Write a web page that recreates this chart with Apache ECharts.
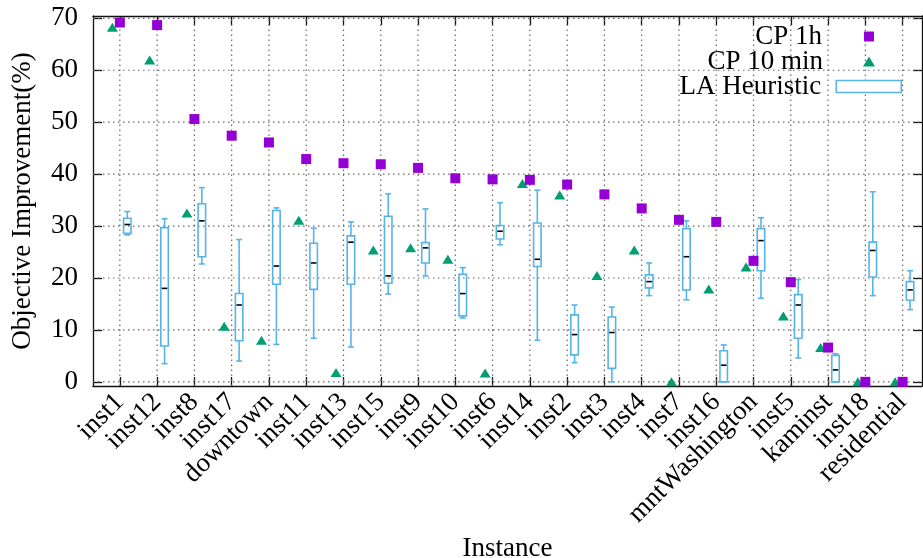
<!DOCTYPE html>
<html>
<head>
<meta charset="utf-8">
<script src="https://cdn.jsdelivr.net/npm/echarts@6/dist/echarts.min.js"></script>
<style>html,body{margin:0;padding:0;background:#fff}#c{width:923px;height:558px}</style>
</head>
<body>
<div id="c"></div>
<script>
const categories = ['inst1','inst12','inst8','inst17','downtown','inst11','inst13','inst15','inst9','inst10','inst6','inst14','inst2','inst3','inst4','inst7','inst16','mntWashington','inst5','kaminst','inst18','residential'];
const cp1h   = [69.2,68.7,50.6,47.4,46.1,42.9,42.1,41.9,41.2,39.2,39.0,38.9,38.0,36.1,33.4,31.2,30.8,23.3,19.2,6.6,0,0];
const cp10   = [68.3,62.0,32.5,10.7,8.0,31.1,1.8,25.4,25.8,23.6,1.7,38.2,36.0,20.5,25.4,0,17.9,22.1,12.7,6.6,0,0];
const boxLow = [28.3,3.5,22.7,4.0,7.2,8.4,6.7,16.9,20.4,12.3,26.4,8.0,3.7,0,16.6,15.8,0,16.1,4.6,0,16.6,13.9];
const boxQ1  = [28.6,6.9,24.1,7.9,18.8,17.8,18.8,19.0,22.9,12.7,27.5,22.2,5.2,2.6,18.1,17.7,0,21.4,8.4,0,20.2,15.7];
const boxMed = [30.3,18.0,31.0,14.8,22.3,22.9,26.9,20.4,25.8,17.0,29.0,23.6,9.1,9.5,19.3,24.1,3.2,27.2,14.8,2.3,25.3,17.7];
const boxQ3  = [31.5,29.7,34.3,17.0,33.0,26.7,28.1,31.9,26.8,20.7,30.1,30.6,12.9,12.5,20.6,29.5,6.0,29.5,16.8,5.1,26.9,19.3];
const boxHigh= [32.8,31.4,37.4,27.4,33.5,29.6,30.8,36.2,33.3,22.0,34.5,36.9,14.8,14.4,22.9,31.0,7.1,31.6,19.7,5.4,36.6,21.4];
const yTicks = [0,10,20,30,40,50,60,70];

const PURPLE = '#9400d3', GREEN = '#009e73', BLUE = '#56b4e9';
const FONT = '"Liberation Serif", "DejaVu Serif", serif';
const FS = 27;
const TRI_SHIFT = -0.2, BOX_SHIFT = 0.2;
const X_MIN = -0.72, X_MAX = 21.52, Y_MIN = -0.8, Y_MAX = 70.45;
const xIdx = categories.map((c, i) => i);
// padded label list: the end entries are blank placeholders so no real label is dropped by min/max overlap logic
const xLabelVals = [X_MIN].concat(xIdx, [X_MAX]);

const squareData = cp1h.map((v, i) => [i, v]);
const triData = cp10.map((v, i) => [i + TRI_SHIFT, v]);
const boxData = categories.map((c, i) => [i + BOX_SHIFT, boxLow[i], boxQ1[i], boxMed[i], boxQ3[i], boxHigh[i]]);

const gridData = xIdx.map(i => [i, 0, 0]).concat(yTicks.map(v => [0, v, 1]));  // [x, y, isHorizontal]
const axisLineStyle = {show: true, onZero: false, lineStyle: {color: '#111', width: 1.3}};
const tickStyle = {show: true, inside: true, length: 9, lineStyle: {color: '#111', width: 1.3}};

const chart = echarts.init(document.getElementById('c'), null, {renderer: 'canvas'});
chart.setOption({
  animation: false,
  backgroundColor: '#fff',
  textStyle: {fontFamily: FONT},
  grid: {left: 93, right: 1, top: 16, bottom: 172, containLabel: false, outerBoundsMode: 'none'},
  xAxis: [{
    type: 'value', min: X_MIN, max: X_MAX, position: 'bottom',
    name: 'Instance', nameLocation: 'middle', nameGap: 144,
    nameTextStyle: {fontFamily: FONT, fontSize: FS, color: '#000'},
    axisLine: axisLineStyle,
    axisTick: Object.assign({customValues: xIdx}, tickStyle),
    axisLabel: {customValues: xLabelVals, rotate: 45, margin: 12, fontFamily: FONT, fontSize: FS, color: '#000',
      showMinLabel: false, showMaxLabel: false, hideOverlap: false,
      formatter: v => (Number.isInteger(v) ? (categories[v] || '') : '')},
    splitLine: {show: false}
  }, {
    type: 'value', min: X_MIN, max: X_MAX, position: 'top',
    axisLine: axisLineStyle,
    axisTick: Object.assign({customValues: xIdx}, tickStyle),
    axisLabel: {show: false},
    splitLine: {show: false}
  }],
  yAxis: [{
    type: 'value', min: Y_MIN, max: Y_MAX, position: 'left',
    name: 'Objective Improvement(%)', nameLocation: 'middle', nameGap: 57,
    nameTextStyle: {fontFamily: FONT, fontSize: FS, color: '#000'},
    axisLine: axisLineStyle,
    axisTick: Object.assign({customValues: yTicks}, tickStyle),
    axisLabel: {customValues: yTicks, margin: 15, fontFamily: FONT, fontSize: FS, color: '#000',
      showMinLabel: true, showMaxLabel: true},
    splitLine: {show: false}
  }, {
    type: 'value', min: Y_MIN, max: Y_MAX, position: 'right',
    axisLine: axisLineStyle,
    axisTick: Object.assign({customValues: yTicks}, tickStyle),
    axisLabel: {show: false},
    splitLine: {show: false}
  }],
  legend: [{
    data: [{name: 'CP 1h', icon: 'rect'}],
    orient: 'vertical', align: 'right', right: 49, top: 23, padding: 0,
    itemWidth: 10, itemHeight: 10,
    textStyle: {fontFamily: FONT, fontSize: FS, color: '#000', padding: [0, 37, 0, 0]}
  }, {
    data: [{name: 'CP 10 min', icon: 'triangle'}],
    orient: 'vertical', align: 'right', right: 48, top: 48, padding: 0,
    itemWidth: 12, itemHeight: 10,
    textStyle: {fontFamily: FONT, fontSize: FS, color: '#000', padding: [0, 35, 0, 0]}
  }, {
    data: [{name: 'LA Heuristic', icon: 'rect', itemStyle: {color: '#fff', borderColor: BLUE, borderWidth: 1.5}}],
    orient: 'vertical', align: 'right', right: 21, top: 73, padding: 0,
    itemWidth: 65, itemHeight: 12,
    textStyle: {fontFamily: FONT, fontSize: FS, color: '#000', padding: [0, 10, 0, 0]}
  }],
  series: [{
    name: 'gridlines', type: 'custom', xAxisIndex: 0, yAxisIndex: 0, silent: true, z: 1,
    dimensions: ['x', 'y', 'h'], encode: {x: 0, y: 1},
    data: gridData,
    renderItem: function (params, api) {
      const horiz = api.value(2) === 1;
      const p1 = horiz ? api.coord([X_MIN, api.value(1)]) : api.coord([api.value(0), Y_MIN]);
      const p2 = horiz ? api.coord([X_MAX, api.value(1)]) : api.coord([api.value(0), Y_MAX]);
      return {type: 'line', shape: {x1: p1[0], y1: p1[1], x2: p2[0], y2: p2[1]},
        style: {stroke: '#666', lineWidth: 1.2, lineDash: [1.5, 3.5], fill: null}};
    }
  }, {
    name: 'LA Heuristic', type: 'custom', xAxisIndex: 0, yAxisIndex: 0,
    itemStyle: {color: BLUE},
    dimensions: ['x', 'low', 'q1', 'med', 'q3', 'high'],
    encode: {x: 0, y: [1, 2, 3, 4, 5]},
    data: boxData,
    z: 2,
    renderItem: function (params, api) {
      const x = api.value(0);
      const lo = api.coord([x, api.value(1)]);
      const q1 = api.coord([x, api.value(2)]);
      const md = api.coord([x, api.value(3)]);
      const q3 = api.coord([x, api.value(4)]);
      const hi = api.coord([x, api.value(5)]);
      const cx = lo[0], bw = 7.5, cw = 6;
      const ls = {stroke: BLUE, lineWidth: 1.6, fill: null};
      return {type: 'group', children: [
        {type: 'line', shape: {x1: cx, y1: hi[1], x2: cx, y2: q3[1]}, style: ls},
        {type: 'line', shape: {x1: cx, y1: q1[1], x2: cx, y2: lo[1]}, style: ls},
        {type: 'line', shape: {x1: cx - cw / 2, y1: hi[1], x2: cx + cw / 2, y2: hi[1]}, style: ls},
        {type: 'line', shape: {x1: cx - cw / 2, y1: lo[1], x2: cx + cw / 2, y2: lo[1]}, style: ls},
        {type: 'rect', shape: {x: cx - bw / 2, y: q3[1], width: bw, height: q1[1] - q3[1]}, style: {stroke: BLUE, lineWidth: 1.6, fill: 'rgba(255,255,255,0)'}},
        {type: 'line', shape: {x1: cx - bw / 2 + 1, y1: md[1], x2: cx + bw / 2 - 1, y2: md[1]}, style: {stroke: '#000', lineWidth: 1.6}}
      ]};
    }
  }, {
    name: 'CP 10 min', type: 'scatter', xAxisIndex: 0, yAxisIndex: 0,
    symbol: 'triangle', symbolSize: [11, 9],
    itemStyle: {color: GREEN, opacity: 1},
    data: triData, z: 3
  }, {
    name: 'CP 1h', type: 'scatter', xAxisIndex: 0, yAxisIndex: 0,
    symbol: 'rect', symbolSize: 10,
    itemStyle: {color: PURPLE, opacity: 1},
    data: squareData, z: 4
  }]
});
</script>
</body>
</html>
